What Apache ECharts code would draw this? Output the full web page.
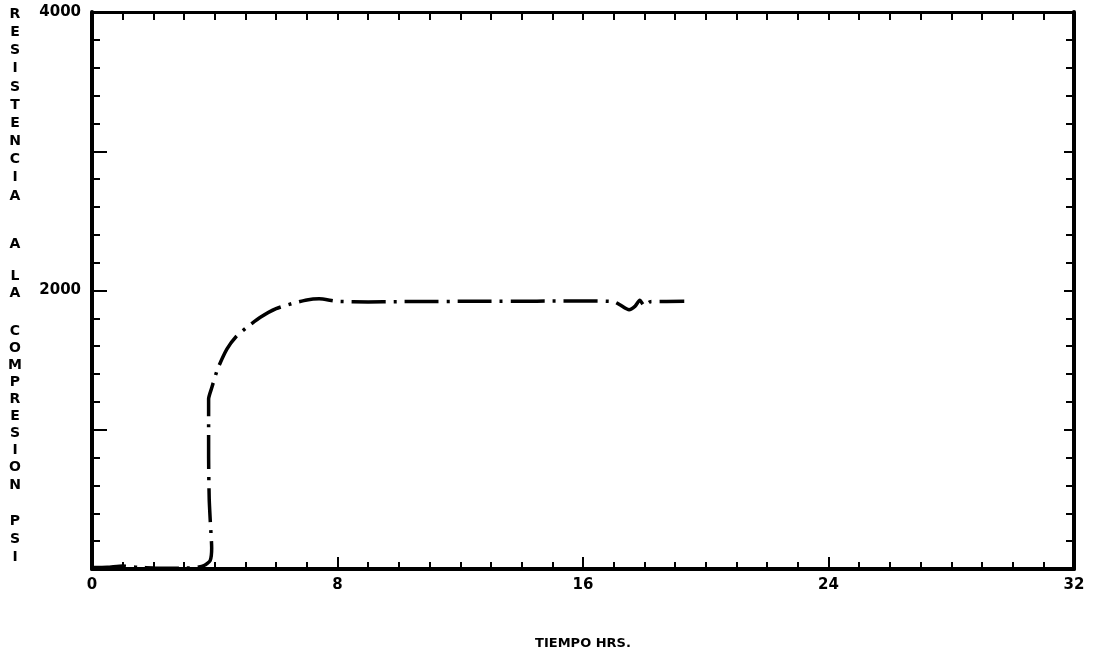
<!DOCTYPE html>
<html>
<head>
<meta charset="utf-8">
<script src="https://cdn.jsdelivr.net/npm/echarts@6/dist/echarts.min.js"></script>
<style>
  html, body { margin: 0; padding: 0; background: #fff; }
  #main { width: 1097px; height: 655px; }
</style>
</head>
<body>
<div id="main"></div>
<script>
// time in hours
let horas = [0, 0.5, 1.0, 1.5, 2.0, 2.5, 3.0, 3.4, 3.65, 3.85, 3.9, 3.86, 3.82, 3.8, 3.8, 3.8,
  3.9, 4.1, 4.4, 4.7, 5.1, 5.5, 6.0, 6.5, 7.0, 7.4, 8.0, 9.0, 10.0, 11.0, 12.0, 13.0, 14.0,
  15.0, 16.0, 17.0, 17.2, 17.5, 17.7, 17.85, 18.0, 18.2, 19.3];
// compressive strength psi
let resistencia = [10, 12, 22, 12, 8, 6, 6, 12, 25, 60, 150, 320, 500, 800, 1000, 1221,
  1300, 1440, 1580, 1670, 1745, 1810, 1870, 1905, 1932, 1940, 1922, 1918, 1920, 1921, 1922, 1922, 1923,
  1924, 1925, 1920, 1898, 1862, 1888, 1930, 1890, 1920, 1922];

// vertical y-axis title letters and their y positions
let tituloY = 'RESISTENCIAALACOMPRESIONPSI'.split('');
let posY = [14, 32, 50, 68, 87, 105, 123, 141, 159, 177, 196,
  244, 276, 293,
  331, 348, 365, 382, 399, 416, 433, 450, 467, 485,
  521, 539, 557];

let data = horas.map((h, i) => [h, resistencia[i]]);

function drawChart() {
    let myChart = echarts.init(document.getElementById('main'));
    const font = 'DejaVu Sans';
    const tick = { color: '#000', width: 2 };
    let option = {
        backgroundColor: '#fff',
        animation: false,
        grid: { left: 92, right: 23, top: 12, bottom: 81 },
        xAxis: [
            {
                type: 'value', min: 0, max: 32, interval: 8, position: 'bottom',
                axisLine: { show: true, onZero: false, lineStyle: { color: '#000', width: 4 } },
                axisTick: { show: true, inside: true, length: 12, lineStyle: tick },
                minorTick: { show: true, splitNumber: 8, length: 7, lineStyle: tick },
                splitLine: { show: false },
                axisLabel: { color: '#000', fontFamily: font, fontWeight: 'bold', fontSize: 15, margin: 9 },
                name: 'TIEMPO HRS.', nameLocation: 'middle', nameGap: 68,
                nameTextStyle: { color: '#000', fontFamily: font, fontWeight: 'bold', fontSize: 13 }
            },
            {
                type: 'value', min: 0, max: 32, interval: 8, position: 'top',
                axisLine: { show: true, onZero: false, lineStyle: { color: '#000', width: 3 } },
                axisTick: { show: true, inside: true, length: 8, lineStyle: tick },
                minorTick: { show: true, splitNumber: 8, length: 8, lineStyle: tick },
                splitLine: { show: false },
                axisLabel: { show: false }
            }
        ],
        yAxis: [
            {
                type: 'value', min: 0, max: 4000, interval: 1000, position: 'left',
                axisLine: { show: true, onZero: false, lineStyle: { color: '#000', width: 4 } },
                axisTick: { show: true, inside: true, length: 15, lineStyle: tick },
                minorTick: { show: true, splitNumber: 5, length: 8, lineStyle: tick },
                splitLine: { show: false },
                axisLabel: {
                    color: '#000', fontFamily: font, fontWeight: 'bold', fontSize: 15, margin: 11,
                    formatter: v => (v === 2000 || v === 4000) ? String(v) : ''
                }
            },
            {
                type: 'value', min: 0, max: 4000, interval: 1000, position: 'right',
                axisLine: { show: true, onZero: false, lineStyle: { color: '#000', width: 4 } },
                axisTick: { show: true, inside: true, length: 10, lineStyle: tick },
                minorTick: { show: true, splitNumber: 5, length: 8, lineStyle: tick },
                splitLine: { show: false },
                axisLabel: { show: false }
            }
        ],
        graphic: tituloY.map((c, i) => ({
            type: 'text',
            x: 15,
            y: posY[i],
            style: { text: c, fill: '#000', font: 'bold 14px "DejaVu Sans"', align: 'center', verticalAlign: 'middle' }
        })),
        series: [
            {
                name: 'Resistencia',
                type: 'line',
                data: data,
                showSymbol: false,
                smooth: 0.2,
                lineStyle: { color: '#000', width: 3.5, type: [34, 8, 3, 8] }
            }
        ]
    };
    myChart.setOption(option);
}

drawChart();
</script>
</body>
</html>
